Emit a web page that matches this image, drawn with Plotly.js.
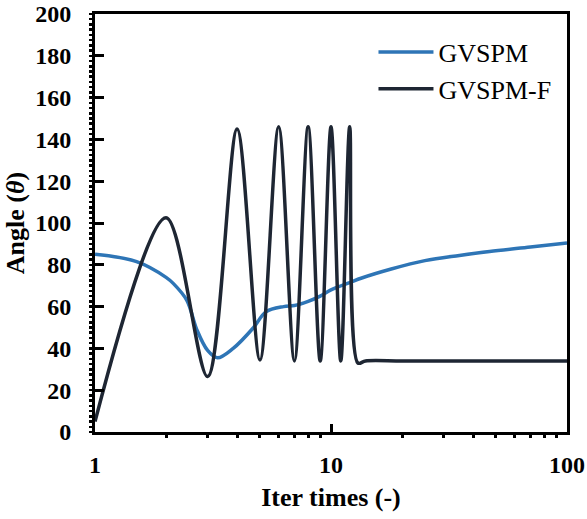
<!DOCTYPE html>
<html>
<head>
<meta charset="utf-8">
<script src="https://cdn.plot.ly/plotly-3.0.1.min.js"></script>
<style>html,body{margin:0;padding:0;background:#fff;}#chart{width:587px;height:519px;}</style>
</head>
<body>
<div id="chart"></div>
<script>
// GVSPM (blue)
const gvspmX = [1, 1.5, 2, 2.15, 2.45, 2.7, 3, 3.3, 3.85, 4.7, 5.3, 6.3, 7, 8, 9, 10, 12, 13.5, 18, 25, 35, 47, 70, 100];
const gvspmY = [85, 81.5, 74, 71, 63, 49, 39, 35.5, 40, 50, 57.5, 60, 60.5, 62.5, 65, 68, 71.5, 73.7, 78, 82, 84.5, 86.4, 88.5, 90.4];
// GVSPM-F (black)
const gvspmFX = [1, 2, 3, 4, 5, 6, 7, 8, 9, 10, 11, 12, 13, 14, 20, 50, 100];
const gvspmFY = [5, 102.5, 26.5, 145, 34.5, 146, 34, 146, 34, 146, 34, 146, 33, 34, 34, 34, 34];
const seriesNames = ["GVSPM", "GVSPM-F"];
const xRangeLog = [0, 2];
const yRange = [0, 200];
const xMinorTicks = [2, 3, 4, 5, 6, 7, 8, 9, 20, 30, 40, 50, 60, 70, 80, 90];

const serif = "Liberation Serif, Times New Roman, serif";
const tickFont = {family: serif, size: 24, color: "#000", weight: "bold"};
const traces = [
  {x: gvspmX, y: gvspmY, name: seriesNames[0], type: "scatter", mode: "lines",
   line: {color: "#2e75b6", width: 3.5, shape: "spline", smoothing: 1}},
  {x: gvspmFX, y: gvspmFY, name: seriesNames[1], type: "scatter", mode: "lines",
   line: {color: "#1e2633", width: 3.5, shape: "spline", smoothing: 0.9}},
  // invisible helper so the minor-tick overlay axes are drawn
  {x: [1], y: [0], xaxis: "x2", yaxis: "y2", type: "scatter", mode: "markers",
   marker: {opacity: 0}, showlegend: false, hoverinfo: "skip"}
];
const layout = {
  width: 587, height: 519,
  margin: {l: 95, r: 20, t: 14, b: 87},
  paper_bgcolor: "#fff", plot_bgcolor: "#fff",
  showlegend: true,
  legend: {x: 0.59, y: 0.965, xanchor: "left", yanchor: "top", bgcolor: "rgba(0,0,0,0)",
           font: {family: serif, size: 26, color: "#000"},
           itemwidth: 55, tracegroupgap: 0},
  xaxis: {type: "log", range: xRangeLog, tickmode: "linear", tick0: 0, dtick: 1,
          ticks: "inside", ticklen: 8, tickwidth: 3, tickcolor: "#000",
          showline: true, linewidth: 3, linecolor: "#000", mirror: true,
          showgrid: false, zeroline: false, tickfont: tickFont, ticklabelstandoff: 9,
          title: {text: "Iter times (-)", font: {family: serif, size: 26, color: "#000", weight: "bold"}, standoff: 12}},
  yaxis: {range: yRange, tickmode: "linear", tick0: 0, dtick: 20,
          ticks: "inside", ticklen: 9, tickwidth: 3, tickcolor: "#000",
          showline: true, linewidth: 3, linecolor: "#000", mirror: true,
          showgrid: false, zeroline: false, tickfont: tickFont, ticklabelstandoff: 16,
          title: {text: "Angle (<i>θ</i>)", font: {family: serif, size: 26, color: "#000", weight: "bold"}, standoff: 4}},
  xaxis2: {type: "log", range: xRangeLog, overlaying: "x", anchor: "y2", side: "bottom",
           tickmode: "array", tickvals: xMinorTicks, showticklabels: false,
           ticks: "outside", ticklen: 5, tickwidth: 3, tickcolor: "#000",
           showline: false, showgrid: false, zeroline: false},
  yaxis2: {range: yRange, overlaying: "y", anchor: "x2", side: "left",
           tickmode: "linear", tick0: 0, dtick: 2.5, showticklabels: false,
           ticks: "outside", ticklen: 5, tickwidth: 2.5, tickcolor: "#000",
           showline: false, showgrid: false, zeroline: false}
};
Plotly.newPlot("chart", traces, layout, {displayModeBar: false, staticPlot: true});
</script>
</body>
</html>
